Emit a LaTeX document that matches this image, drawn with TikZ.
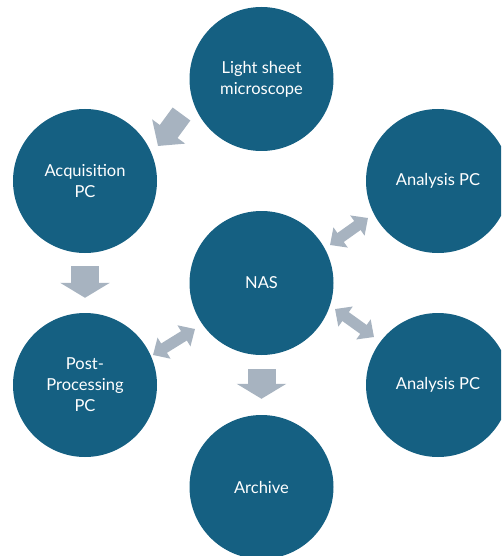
\documentclass[tikz,border=0pt]{standalone}
\usepackage{fontspec}
\setmainfont{Lato}
\usetikzlibrary{arrows.meta , calc}
\definecolor{tealblue}{HTML}{156082}
\definecolor{arrowgrey}{HTML}{A7B3C0}

\begin{document}
\begin{tikzpicture}[x = 1pt , y = -1pt ,
    station/.style = {circle , fill = tealblue , minimum size = 144pt , inner sep = 0pt ,
        text = white , align = center , font = \fontsize{16.5}{21}\selectfont},
    flow/.style = {draw = arrowgrey , line width = 28pt , -{Triangle[width = 49pt , length = 15pt]}},
    slant/.style = {draw = arrowgrey , line width = 22pt , -{Triangle[width = 40pt , length = 18pt]}},
    swap/.style = {draw = arrowgrey , line width = 11pt ,
        {Triangle[width = 24pt , length = 13pt]}-{Triangle[width = 24pt , length = 13pt]}}]
    \useasboundingbox (0,0) rectangle (501,556);
    \clip (0,0) rectangle (501,556);

    % Stationen
    \node[station] (light) at (261.5,79) {Light sheet\\microscope};
    \node[station] (acq) at (85,181) {Acquisition\\PC};
    \node[station] (anatop) at (438,181) {Analysis PC};
    \node[station] (nas) at (261.5,283) {NAS};
    \node[station] (post) at (85,385) {Post-\\Processing\\PC};
    \node[station] (anabot) at (438,385) {Analysis PC};
    \node[station] (archive) at (261.5,487) {Archive};

    % Datenfluss
    \draw[slant] ($(light)+(-80,35)$) -- ($(acq)+(73,-35)$);
    \draw[flow] ($(acq.south)+(0,13)$) -- ($(post.north)+(0,-15)$);
    \draw[flow] ($(nas.south)+(0,14)$) -- ($(archive.north)+(0,-16)$);
    \draw[swap] ($(nas)+(68.5,-38)$) -- ($(anatop)+(-70,37)$);
    \draw[swap] ($(nas)+(73.5,26)$) -- ($(anabot)+(-64,-48)$);
    \draw[swap] ($(nas)+(-66.5,46)$) -- ($(post)+(68,-30)$);
\end{tikzpicture}
\end{document}
